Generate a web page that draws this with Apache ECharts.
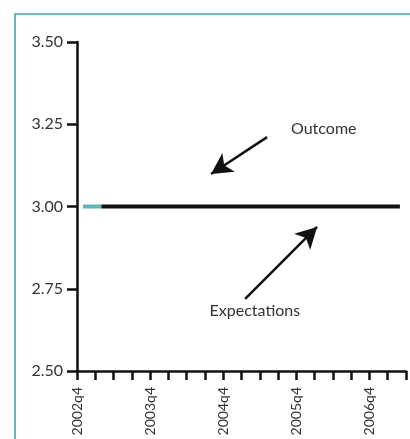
<!DOCTYPE html>
<html>
<head>
<meta charset="utf-8">
<script src="https://cdn.jsdelivr.net/npm/echarts@6/dist/echarts.min.js"></script>
<style>
  html, body { margin: 0; padding: 0; background: #fff; }
  #chart { width: 410px; height: 439px; }
</style>
</head>
<body>
<div id="chart"></div>
<script>
// months counted from 2002q4 (0), quarterly ticks every 3 months
const tickLabels = { 0: '2002q4', 12: '2003q4', 24: '2004q4', 36: '2005q4', 48: '2006q4' };
const yTicks = [2.5, 2.75, 3.0, 3.25, 3.5];

const outcomeMonths = [1, 2, 3, 4];
const outcomeValues = [3.00, 3.00, 3.00, 3.00];

const expectMonths = [4, 10, 16, 22, 28, 34, 40, 46, 53];
const expectValues = [3.00, 3.00, 3.00, 3.00, 3.00, 3.00, 3.00, 3.00, 3.00];

// annotation arrows, [month, value] of tail and head
const outcomeArrow = [[31.2, 3.211], [22.0, 3.099]];
const expectArrow = [[27.6, 2.719], [39.4, 2.938]];
const outcomeLabelAt = [40.5, 3.236];
const expectLabelAt = [29.2, 2.682];

const font = 'Lato, "Open Sans", sans-serif';
const chart = echarts.init(document.getElementById('chart'));

function pairs(xs, ys) {
  return xs.map((x, i) => [x, ys[i]]);
}

function arrowLine(a) {
  return [{ coord: a[0] }, { coord: a[1] }];
}

chart.setOption({
  animation: false,
  grid: { left: 77, right: 4, top: 42, bottom: 68 },
  xAxis: {
    type: 'value',
    min: 0,
    max: 54,
    interval: 3,
    axisLine: { show: true, lineStyle: { color: '#111', width: 2.5 } },
    axisTick: { show: true, inside: false, length: 9, lineStyle: { color: '#111', width: 2.5 } },
    splitLine: { show: false },
    axisLabel: {
      rotate: 90,
      margin: 16,
      fontSize: 14,
      fontFamily: font,
      color: '#333',
      showMaxLabel: true,
      formatter: v => tickLabels[v] || ''
    }
  },
  yAxis: {
    type: 'value',
    min: yTicks[0],
    max: yTicks[yTicks.length - 1],
    interval: 0.25,
    axisLine: { show: true, lineStyle: { color: '#111', width: 2.5 } },
    axisTick: { show: true, length: 10, lineStyle: { color: '#111', width: 2.5 } },
    splitLine: { show: false },
    axisLabel: {
      margin: 14,
      fontSize: 16,
      fontFamily: font,
      color: '#333',
      formatter: v => v.toFixed(2)
    }
  },
  series: [
    {
      name: 'Outcome',
      type: 'line',
      data: pairs(outcomeMonths, outcomeValues),
      showSymbol: false,
      lineStyle: { color: '#5fb3b9', width: 4 },
      z: 2
    },
    {
      name: 'Expectations',
      type: 'line',
      data: pairs(expectMonths, expectValues),
      showSymbol: false,
      lineStyle: { color: '#111', width: 4 },
      z: 3,
      markLine: {
        silent: true,
        symbol: ['none', 'arrow'],
        symbolSize: [17, 21],
        label: { show: false },
        lineStyle: { color: '#111', width: 2.5, type: 'solid' },
        data: [arrowLine(outcomeArrow), arrowLine(expectArrow)]
      }
    }
  ]
});

const oPos = chart.convertToPixel({ gridIndex: 0 }, outcomeLabelAt);
const ePos = chart.convertToPixel({ gridIndex: 0 }, expectLabelAt);

chart.setOption({
  graphic: [
    {
      type: 'rect',
      shape: { x: 15, y: 14, width: 440, height: 460 },
      style: { fill: 'none', stroke: '#3fa5a7', lineWidth: 1.6 },
      silent: true
    },
    {
      type: 'text',
      x: oPos[0], y: oPos[1],
      style: { text: 'Outcome', font: '16px ' + font, fill: '#333', align: 'center', verticalAlign: 'middle' }
    },
    {
      type: 'text',
      x: ePos[0], y: ePos[1],
      style: { text: 'Expectations', font: '16px ' + font, fill: '#333', align: 'center', verticalAlign: 'middle' }
    }
  ]
});
</script>
</body>
</html>
